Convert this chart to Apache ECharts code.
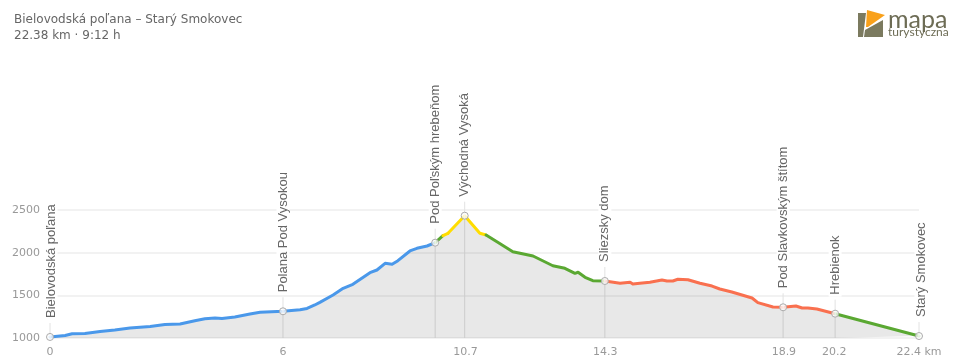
<!DOCTYPE html>
<html><head><meta charset="utf-8">
<style>html,body{margin:0;padding:0;background:#fff}#c{width:960px;height:362px}</style>
<script src="https://cdn.jsdelivr.net/npm/echarts@6/dist/echarts.min.js"></script>
</head><body><div id="c"></div>
<script>
const km=[0,.26,.39,.57,.90,1.29,1.67,2.06,2.58,2.96,3.35,3.73,3.99,4.25,4.43,4.76,5.15,5.41,6.0,6.44,6.62,6.82,6.95,7.29,7.55,7.80,8.24,8.42,8.63,8.81,8.96,9.27,9.45,9.71,9.92,10.12,10.25,10.68,11.07,11.23,11.51,11.92,12.44,12.95,13.26,13.52,13.60,13.78,13.98,14.29,14.68,14.94,15.01,15.19,15.45,15.76,15.89,16.04,16.17,16.43,16.74,17.05,17.25,17.56,18.08,18.23,18.62,18.88,19.01,19.21,19.37,19.52,19.75,20.22,22.38];
const elevation=[1012,1023,1029,1050,1053,1076,1094,1117,1135,1158,1164,1203,1226,1234,1228,1246,1281,1301,1313,1330,1346,1387,1418,1504,1582,1629,1765,1797,1875,1864,1906,2020,2051,2078,2117,2199,2227,2433,2227,2207,2129,2011,1961,1847,1817,1758,1770,1711,1672,1668,1641,1653,1633,1641,1653,1680,1668,1668,1688,1683,1641,1609,1574,1539,1469,1414,1363,1360,1367,1375,1352,1352,1340,1285,1023];
const segmentEnds=[9.92,10.12,10.25,11.23,14.29,20.22,22.38];
const segmentColors=['#4a98ea','#5aa832','#ffdd00','#ffdd00','#5aa832','#f9704f','#5aa832'];
const placeNames=['Bielovodská poľana','Polana Pod Vysokou','Pod Poľským hrebeňom','Východná Vysoká','Sliezsky dom','Pod Slavkovským štítom','Hrebienok','Starý Smokovec'];
const placeKm=[0,6.0,9.92,10.68,14.29,18.88,20.22,22.38];
const placeEle=[1012,1313,2117,2433,1668,1360,1285,1023];
const xTicks=[0,6,10.7,14.3,18.9,20.2,22.38];
const xTickLabels=['0','6','10.7','14.3','18.9','20.2','22.4 km'];
const yTicks=[1000,1500,2000,2500];

const FONT='"DejaVu Sans"';
const pts=km.map((k,i)=>[k,elevation[i]]);
let prev=0;
const lineSeries=segmentEnds.map((end,i)=>{
  const s=pts.filter(p=>p[0]>=prev&&p[0]<=end);prev=end;
  return {type:'line',data:s,showSymbol:false,symbol:'none',z:3,silent:true,animation:false,
    lineStyle:{color:segmentColors[i],width:3,join:'round',cap:'round'}};
});
const chart=echarts.init(document.getElementById('c'),null,{renderer:'canvas'});
chart.setOption({
  animation:false,
  backgroundColor:'#fff',
  title:{text:'Bielovodská poľana – Starý Smokovec\n22.38 km · 9:12 h',left:14,top:12,padding:0,
    textStyle:{fontFamily:FONT,fontSize:12,fontWeight:'normal',color:'#666',lineHeight:16}},
  grid:{left:50,right:41,top:210,bottom:24},
  xAxis:{type:'value',min:0,max:22.38,splitLine:{show:false},axisLine:{show:false},axisTick:{show:false},
    axisLabel:{customValues:xTicks,color:'#999',fontFamily:FONT,fontSize:11,margin:9,hideOverlap:false,
      formatter:v=>xTickLabels[xTicks.indexOf(v)]}},
  yAxis:{type:'value',min:1000,max:2500,interval:500,axisLine:{show:false},axisTick:{show:false},
    splitLine:{lineStyle:{color:'#f2f2f2',width:2}},
    axisLabel:{color:'#999',fontFamily:FONT,fontSize:11,margin:10,formatter:v=>yTicks.includes(v)?String(v):''}},
  series:[
    {type:'line',data:pts,symbol:'none',silent:true,z:2,lineStyle:{width:0},areaStyle:{color:'#000',opacity:0.09}},
    ...lineSeries,
    {type:'custom',z:5,silent:true,clip:false,
      data:placeKm.map((k,i)=>[k,placeEle[i],i]),
      encode:{x:0,y:1},
      renderItem:(p,api)=>{
        const k=api.value(0),e=api.value(1),idx=api.value(2);
        const base=api.coord([k,1000]),pt=api.coord([k,e]);
        return {type:'group',children:[
          {type:'line',shape:{x1:pt[0],y1:base[1],x2:pt[0],y2:pt[1]},style:{stroke:'#ccc',lineWidth:1}},
          {type:'line',shape:{x1:pt[0],y1:pt[1],x2:pt[0],y2:pt[1]-14},style:{stroke:'#e2e2e2',lineWidth:1}},
          {type:'text',x:pt[0]+(idx===0?1:idx===7?2:0),y:pt[1]-17,rotation:Math.PI/2,
            style:{text:placeNames[idx],fontFamily:'"Liberation Sans"',fontSize:13,fill:'#666',align:'left',verticalAlign:'middle',
              backgroundColor:'#fff',padding:[0,2]}},
          {type:'circle',shape:{cx:pt[0],cy:pt[1],r:3.5},style:{fill:'rgba(255,255,255,0.75)',stroke:'#aaa',lineWidth:1}}
        ]};
      }}
  ],
  graphic:[
    {type:'polygon',shape:{points:[[858,13],[866,13],[863,37],[858,37]]},style:{fill:'#7b7a5f'}},
    {type:'polygon',shape:{points:[[867,10],[885,15],[868,27],[866,27]]},style:{fill:'#f9a11b'}},
    {type:'polygon',shape:{points:[[864,37],[865,30],[883,20],[883,37]]},style:{fill:'#7b7a5f'}},
    {type:'text',x:888,y:7,style:{text:'mapa',fontFamily:'Lato',fontSize:25,fill:'#6d6c55'}},
    {type:'text',x:888,y:26,style:{text:'turystyczna',fontFamily:'Lato',fontSize:12,fill:'#6d6c55'}}
  ]
});
</script></body></html>
